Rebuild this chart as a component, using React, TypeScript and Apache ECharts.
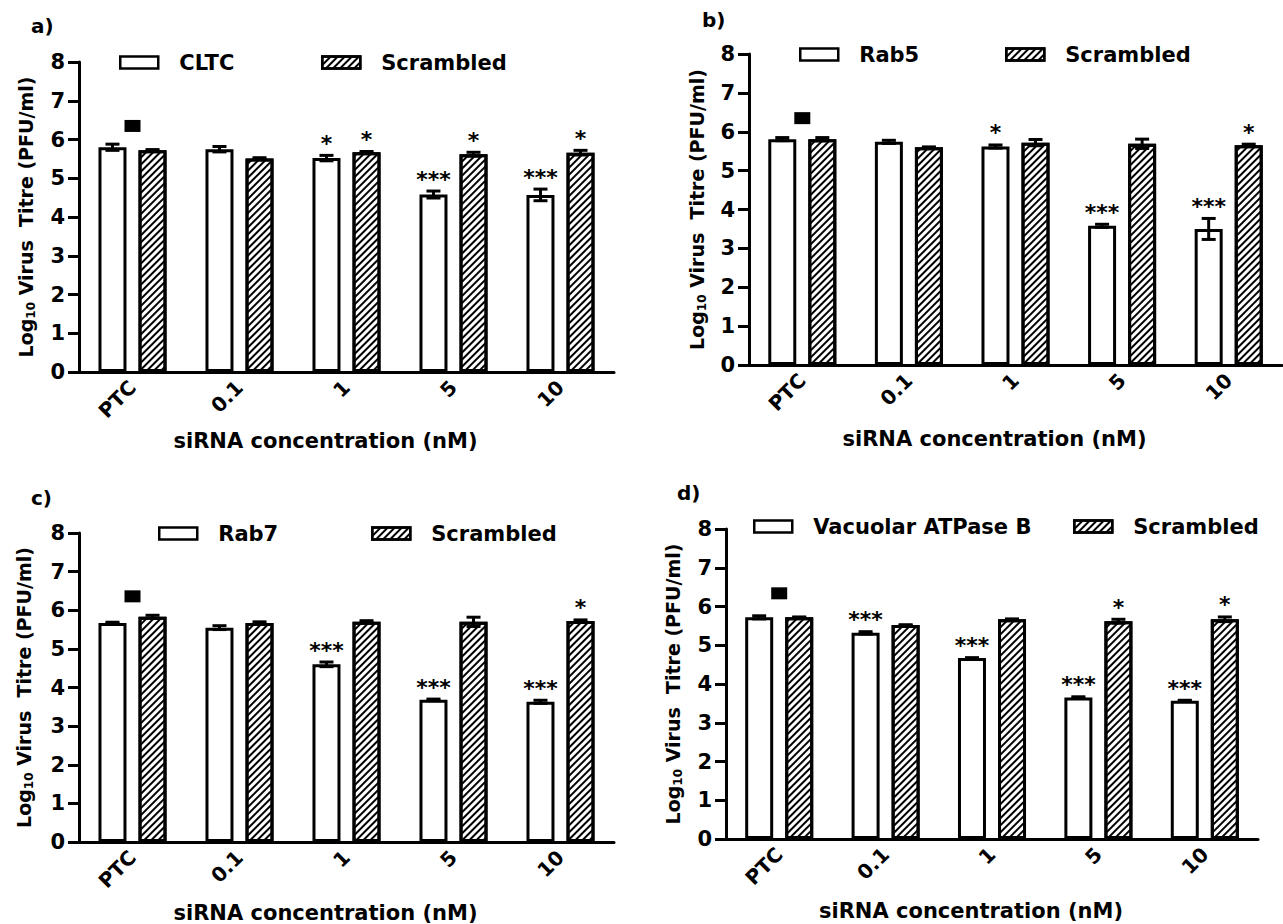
import React, { useEffect, useRef } from "react";
import * as echarts from "echarts";

// ---------- data ----------
const categories = ["PTC", "0.1", "1", "5", "10"];
const yTickMin = 0;
const yTickMax = 8;
const yTickStep = 1;

const cltcMean = [5.8, 5.75, 5.52, 4.58, 4.57];
const cltcErr = [0.08, 0.07, 0.07, 0.09, 0.15];
const scrAMean = [5.72, 5.51, 5.67, 5.62, 5.66];
const scrAErr = [0.02, 0.02, 0.02, 0.05, 0.06];
const cltcStars = ["", "", "*", "***", "***"];
const scrAStars = ["", "", "*", "*", "*"];

const rab5Mean = [5.81, 5.74, 5.62, 3.58, 3.5];
const rab5Err = [0.04, 0.04, 0.04, 0.04, 0.27];
const scrBMean = [5.81, 5.6, 5.72, 5.69, 5.65];
const scrBErr = [0.04, 0.01, 0.08, 0.12, 0.03];
const rab5Stars = ["", "", "*", "***", "***"];
const scrBStars = ["", "", "", "", "*"];

const rab7Mean = [5.67, 5.55, 4.6, 3.68, 3.63];
const rab7Err = [0.02, 0.05, 0.06, 0.02, 0.04];
const scrCMean = [5.83, 5.67, 5.7, 5.7, 5.72];
const scrCErr = [0.04, 0.03, 0.03, 0.12, 0.03];
const rab7Stars = ["", "", "***", "***", "***"];
const scrCStars = ["", "", "", "", "*"];

const vatpMean = [5.72, 5.32, 4.67, 3.65, 3.57];
const vatpErr = [0.04, 0.03, 0.01, 0.02, 0.01];
const scrDMean = [5.72, 5.52, 5.67, 5.62, 5.67];
const scrDErr = [0.01, 0.01, 0.01, 0.05, 0.06];
const vatpStars = ["", "***", "***", "***", "***"];
const scrDStars = ["", "", "", "*", "*"];

const ptcMarker = [6.35, 6.35, 6.36, 6.34];

const panelLetters = ["a)", "b)", "c)", "d)"];
const knockNames = ["CLTC", "Rab5", "Rab7", "Vacuolar ATPase B"];
const scrambledName = "Scrambled";
const xAxisTitle = "siRNA concentration (nM)";

const panelData = [
  { knock: cltcMean, knockErr: cltcErr, scr: scrAMean, scrErr: scrAErr, kStars: cltcStars, sStars: scrAStars },
  { knock: rab5Mean, knockErr: rab5Err, scr: scrBMean, scrErr: scrBErr, kStars: rab5Stars, sStars: scrBStars },
  { knock: rab7Mean, knockErr: rab7Err, scr: scrCMean, scrErr: scrCErr, kStars: rab7Stars, sStars: scrCStars },
  { knock: vatpMean, knockErr: vatpErr, scr: scrDMean, scrErr: scrDErr, kStars: vatpStars, sStars: scrDStars },
];

// ---------- layout ----------
const layout = [
  { grid: { left: 79, top: 62, width: 535, height: 310 }, title: { left: 26, top: 11 }, legend: { k: 114, s: 316, cy: 61 }, xNameGap: 58, yNameGap: 42 },
  { grid: { left: 749, top: 54, width: 533, height: 311 }, title: { left: 697, top: 5 }, legend: { k: 794, s: 1000, cy: 53 }, xNameGap: 63, yNameGap: 41 },
  { grid: { left: 79, top: 533, width: 535, height: 311 }, title: { left: 26, top: 483 }, legend: { k: 153, s: 366, cy: 532 }, xNameGap: 60, yNameGap: 44 },
  { grid: { left: 726, top: 529, width: 532, height: 310 }, title: { left: 672, top: 478 }, legend: { k: 748, s: 1068, cy: 525 }, xNameGap: 61, yNameGap: 42 },
];

const FONT = "DejaVu Sans";
const BAR_W = 28;
const BAR_GAP = 0.43;
const BAR_OFFSET = (BAR_W + BAR_W * BAR_GAP) / 2;

const hatch = {
  symbol: "rect",
  symbolSize: 1,
  dashArrayX: [1, 0],
  dashArrayY: [1.5, 2.6],
  rotation: -Math.PI / 4,
  color: "#000",
  backgroundColor: "#fff",
};

function errRender(offset: number) {
  return (params: any, api: any) => {
    const i = api.value(0);
    const m = api.value(1);
    const e = api.value(2);
    const top = api.coord([i, m + e]);
    const bot = api.coord([i, m - e]);
    const x = top[0] + offset;
    const st = { stroke: "#000", lineWidth: 3 };
    return {
      type: "group",
      children: [
        { type: "line", shape: { x1: x, y1: top[1], x2: x, y2: bot[1] }, style: st },
        { type: "line", shape: { x1: x - 7, y1: top[1], x2: x + 7, y2: top[1] }, style: st },
        { type: "line", shape: { x1: x - 7, y1: bot[1], x2: x + 7, y2: bot[1] }, style: st },
      ],
    };
  };
}

function starRender(offset: number, stars: string[]) {
  return (params: any, api: any) => {
    const i = api.value(0);
    const t = api.value(1);
    const p = api.coord([i, t]);
    const s = stars[i];
    if (!s) return null;
    return {
      type: "text",
      x: p[0] + offset,
      y: p[1] - 12,
      style: {
        text: s,
        fill: "#000",
        fontSize: 22,
        fontWeight: "bold",
        fontFamily: FONT,
        align: "center",
        verticalAlign: "middle",
      },
    };
  };
}

function buildOption() {
  const grids: any[] = [];
  const xAxes: any[] = [];
  const yAxes: any[] = [];
  const series: any[] = [];
  const titles: any[] = [];
  const legends: any[] = [];

  layout.forEach((L, p) => {
    const d = panelData[p];
    grids.push({ ...L.grid });
    titles.push({
      text: panelLetters[p],
      left: L.title.left,
      top: L.title.top,
      textStyle: { fontSize: 20, fontWeight: "bold", fontFamily: FONT, color: "#000" },
    });
    xAxes.push({
      type: "category",
      gridIndex: p,
      data: categories,
      axisLine: { lineStyle: { color: "#000", width: 3 } },
      axisTick: { show: false },
      axisLabel: {
        rotate: 45,
        margin: 12,
        fontSize: 20,
        fontWeight: "bold",
        fontFamily: FONT,
        color: "#000",
      },
      name: xAxisTitle,
      nameLocation: "middle",
      nameGap: L.xNameGap,
      nameTextStyle: {
        fontSize: 21,
        fontWeight: "bold",
        fontFamily: FONT,
        color: "#000",
        padding: [0, 42, 0, 0],
      },
    });
    yAxes.push({
      type: "value",
      gridIndex: p,
      min: yTickMin,
      max: yTickMax,
      interval: yTickStep,
      splitLine: { show: false },
      axisLine: { show: true, lineStyle: { color: "#000", width: 3 } },
      axisTick: { show: true, length: 11, lineStyle: { color: "#000", width: 3 } },
      axisLabel: { margin: 14, fontSize: 21, fontWeight: "bold", fontFamily: FONT, color: "#000" },
      name: "{a|Log}{b|10}{a| Virus  Titre (PFU/ml)}",
      nameLocation: "middle",
      nameGap: L.yNameGap,
      nameTextStyle: {
        rich: {
          a: { fontSize: 19, fontWeight: "bold", fontFamily: FONT, color: "#000", lineHeight: 22 },
          b: { fontSize: 12, fontWeight: "bold", fontFamily: FONT, color: "#000", lineHeight: 10, verticalAlign: "bottom" },
        },
      },
    });

    const kName = knockNames[p];
    series.push({
      type: "bar",
      name: kName,
      xAxisIndex: p,
      yAxisIndex: p,
      data: d.knock,
      barWidth: BAR_W,
      barGap: `${BAR_GAP * 100}%`,
      itemStyle: { color: "#fff", borderColor: "#000", borderWidth: 3 },
      z: 2,
    });
    series.push({
      type: "bar",
      name: scrambledName,
      xAxisIndex: p,
      yAxisIndex: p,
      data: d.scr,
      barWidth: BAR_W,
      barGap: `${BAR_GAP * 100}%`,
      itemStyle: { color: "#fff", borderColor: "#000", borderWidth: 3, decal: hatch },
      z: 2,
    });
    series.push({
      type: "custom",
      xAxisIndex: p,
      yAxisIndex: p,
      data: d.knock.map((v, i) => [i, v, d.knockErr[i]]),
      renderItem: errRender(-BAR_OFFSET),
      z: 3,
      silent: true,
    });
    series.push({
      type: "custom",
      xAxisIndex: p,
      yAxisIndex: p,
      data: d.scr.map((v, i) => [i, v, d.scrErr[i]]),
      renderItem: errRender(BAR_OFFSET),
      z: 3,
      silent: true,
    });
    series.push({
      type: "custom",
      xAxisIndex: p,
      yAxisIndex: p,
      data: d.knock.map((v, i) => [i, v + d.knockErr[i]]),
      renderItem: starRender(-BAR_OFFSET, d.kStars),
      z: 4,
      silent: true,
    });
    series.push({
      type: "custom",
      xAxisIndex: p,
      yAxisIndex: p,
      data: d.scr.map((v, i) => [i, v + d.scrErr[i]]),
      renderItem: starRender(BAR_OFFSET, d.sStars),
      z: 4,
      silent: true,
    });
    series.push({
      type: "scatter",
      xAxisIndex: p,
      yAxisIndex: p,
      data: [[0, ptcMarker[p]]],
      symbol: "rect",
      symbolSize: [16, 12],
      itemStyle: { color: "#000", opacity: 1 },
      z: 4,
      silent: true,
    });

    const legendCommon = {
      orient: "horizontal",
      top: L.legend.cy - 14,
      itemWidth: 38,
      itemHeight: 12,
      itemGap: 0,
      icon: "rect",
      selectedMode: false,
      itemStyle: { borderColor: "#000", borderWidth: 2.5 },
      textStyle: {
        fontSize: 21,
        fontWeight: "bold",
        fontFamily: FONT,
        color: "#000",
        padding: [0, 0, 0, 16],
      },
    };
    legends.push({ ...legendCommon, left: L.legend.k, data: [kName] });
    legends.push({ ...legendCommon, left: L.legend.s, data: [scrambledName] });
  });

  return {
    animation: false,
    backgroundColor: "#fff",
    title: titles,
    legend: legends,
    grid: grids,
    xAxis: xAxes,
    yAxis: yAxes,
    series,
  };
}

export default function App() {
  const ref = useRef<HTMLDivElement>(null);
  useEffect(() => {
    if (!ref.current) return;
    const chart = echarts.init(ref.current, undefined, { renderer: "svg" });
    chart.setOption(buildOption() as any);
    return () => chart.dispose();
  }, []);
  return (
    <div
      ref={ref}
      style={{ position: "absolute", left: 0, top: 0, width: 1283, height: 924, background: "#fff" }}
    />
  );
}
